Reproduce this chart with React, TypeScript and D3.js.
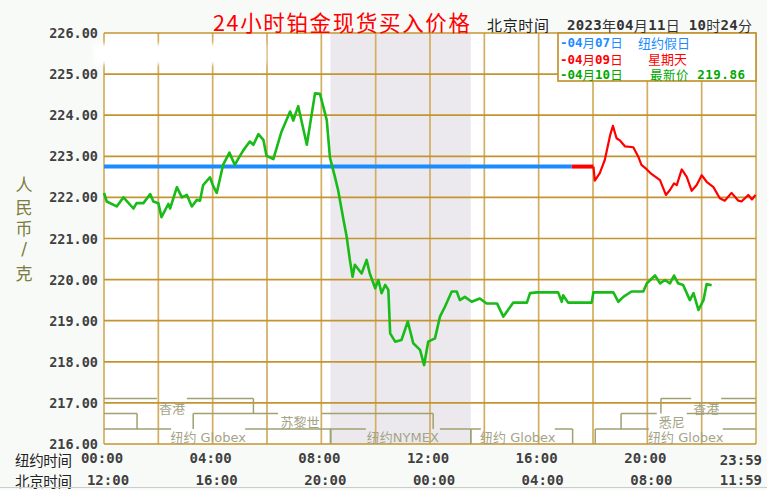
import React from "react";
import * as d3 from "d3";

// ---------- data ----------
const yTicks = [216, 217, 218, 219, 220, 221, 222, 223, 224, 225, 226];
const gridMinutes = [0, 120, 240, 360, 480, 600, 720, 840, 960, 1080, 1200, 1320, 1440];
const tickMinutes = [0, 240, 480, 720, 960, 1200, 1439];
const nyTickLabels = ["00:00", "04:00", "08:00", "12:00", "16:00", "20:00", "23:59"];
const bjTickLabels = ["12:00", "16:00", "20:00", "00:00", "04:00", "08:00", "11:59"];

// 04月07日 (纽约假日) – flat
const blueMinutes = [0, 1033];
const blueValues = [222.75, 222.75];

// 04月09日 (星期天)
const redFlatMinutes = [1033, 1081];
const redFlatValues = [222.75, 222.75];
const redMinutes = [1081, 1084, 1095, 1106, 1118, 1124, 1132, 1140, 1151, 1169, 1180, 1187, 1199, 1209, 1228, 1241, 1250, 1259, 1265, 1276, 1287, 1298, 1309, 1320, 1331, 1346, 1360, 1371, 1386, 1401, 1408, 1423, 1431, 1439];
const redValues = [222.75, 222.41, 222.59, 222.91, 223.52, 223.74, 223.44, 223.38, 223.24, 223.22, 222.99, 222.79, 222.68, 222.57, 222.42, 222.06, 222.18, 222.34, 222.30, 222.68, 222.50, 222.16, 222.30, 222.54, 222.38, 222.25, 221.98, 221.92, 222.11, 221.92, 221.90, 222.06, 221.95, 222.06];

// 04月10日 (最新价 219.86)
const greenMinutes = [0, 6, 28, 43, 65, 72, 87, 102, 109, 120, 127, 142, 146, 161, 172, 183, 194, 205, 212, 219, 234, 241, 249, 263, 277, 289, 297, 308, 322, 330, 341, 352, 359, 374, 392, 411, 418, 429, 448, 466, 477, 492, 499, 510, 517, 529, 536, 543, 549, 554, 569, 580, 587, 599, 606, 613, 621, 628, 632, 643, 657, 671, 683, 698, 707, 716, 731, 742, 753, 768, 779, 786, 797, 812, 830, 845, 860, 868, 882, 904, 934, 941, 956, 1003, 1011, 1014, 1025, 1077, 1081, 1125, 1136, 1147, 1165, 1191, 1199, 1217, 1228, 1239, 1250, 1259, 1268, 1279, 1294, 1302, 1313, 1324, 1331, 1342];
const greenValues = [222.11, 221.90, 221.78, 222.00, 221.73, 221.86, 221.86, 222.08, 221.90, 221.86, 221.52, 221.84, 221.73, 222.25, 222.00, 222.06, 221.78, 221.94, 221.92, 222.30, 222.49, 222.28, 222.11, 222.79, 223.09, 222.79, 222.95, 223.15, 223.36, 223.28, 223.54, 223.40, 223.01, 222.93, 223.60, 224.09, 223.87, 224.22, 223.28, 224.53, 224.52, 223.88, 222.97, 222.50, 222.18, 221.45, 221.04, 220.48, 220.07, 220.36, 220.15, 220.48, 220.15, 219.79, 219.99, 219.67, 219.87, 219.75, 218.69, 218.49, 218.53, 218.98, 218.45, 218.29, 217.92, 218.49, 218.57, 219.10, 219.34, 219.71, 219.71, 219.50, 219.58, 219.46, 219.54, 219.42, 219.42, 219.42, 219.10, 219.44, 219.44, 219.67, 219.69, 219.69, 219.46, 219.62, 219.44, 219.44, 219.69, 219.69, 219.46, 219.58, 219.71, 219.71, 219.91, 220.10, 219.91, 219.99, 219.91, 220.10, 219.91, 219.87, 219.50, 219.67, 219.26, 219.50, 219.89, 219.86];

// NYMEX session (shaded)
const nymexSpan = [500, 810];

// market sessions: name, row, start, end, label centre (minutes)
const sessionNames = ["香港", "香港", "苏黎世", "苏黎世", "悉尼", "纽约 Globex", "纽约NYMEX", "纽约 Globex", "纽约 Globex"];
const sessionRows = [0, 0, 1, 1, 1, 2, 2, 2, 2];
const sessionStarts = [0, 1230, 0, 197, 1142, 0, 500, 810, 1085];
const sessionEnds = [330, 1440, 73, 727, 1440, 501, 810, 1035, 1440];
const sessionLabelAt = [150, 1330, -1, 433, 1254, 230, 660, 914, 1285];

// ---------- helpers ----------
const ASCII_FONT = "'DejaVu Sans Mono', monospace";
const CJK_FONT = "'Noto Sans CJK SC', sans-serif";

function Mixed({ text }: { text: string }) {
  const runs: { s: string; ascii: boolean }[] = [];
  for (const ch of text) {
    const ascii = ch.charCodeAt(0) < 128;
    if (runs.length && runs[runs.length - 1].ascii === ascii) runs[runs.length - 1].s += ch;
    else runs.push({ s: ch, ascii });
  }
  return (
    <>
      {runs.map((r, i) => (
        <tspan key={i} fontFamily={r.ascii ? ASCII_FONT : CJK_FONT} fontWeight={r.ascii ? "bold" : "normal"}>
          {r.s}
        </tspan>
      ))}
    </>
  );
}

export default function App() {
  const W = 767;
  const H = 490;
  const L = 104, R = 756, T = 33, B = 444;
  const x = d3.scaleLinear().domain([0, 1440]).range([L, R]);
  const y = d3.scaleLinear().domain([216, 226]).range([B, T]);

  const mk = (ms: number[], vs: number[]) =>
    d3.line<number>().x((_, i) => x(ms[i])).y((_, i) => y(vs[i]))(ms.map((_, i) => i)) || "";

  const hGrid = "#c39530";
  const vGrid = "#d2ae60";
  const barColor = "#a0a072";
  const barText = "#a4a488";

  const rowTop = [398.5, 413.5, 429];
  const rowBot = [413.5, 429, 444];
  const labelY = [407, 421, 437];
  const halfGap: Record<string, number> = { "香港": 15, "苏黎世": 22, "悉尼": 15, "纽约 Globex": 37, "纽约NYMEX": 37 };

  return (
    <svg width={W} height={H} style={{ position: "absolute", left: 0, top: 0 }} xmlns="http://www.w3.org/2000/svg">
      <defs>
        <filter id="blur" x="-20%" y="-60%" width="140%" height="220%">
          <feGaussianBlur stdDeviation="2.2" />
        </filter>
      </defs>
      <rect x={0} y={0} width={W} height={H} fill="#f8faf8" />
      <rect x={L} y={T} width={R - L} height={B - T} fill="#ffffff" />
      {/* NYMEX shaded span */}
      <rect x={x(nymexSpan[0])} y={T} width={x(nymexSpan[1]) - x(nymexSpan[0])} height={B - T} fill="#ebe9ed" />

      {/* grid */}
      {gridMinutes.map((m) => (
        <line key={"v" + m} x1={x(m)} x2={x(m)} y1={T} y2={B} stroke={vGrid} strokeWidth={1.7} />
      ))}
      {yTicks.map((v) => (
        <line key={"h" + v} x1={L} x2={R} y1={y(v)} y2={y(v)} stroke={hGrid} strokeWidth={1.7} />
      ))}

      {/* erased watermark smudge */}
      <rect x={94} y={44} width={172} height={20} fill="#ffffff" filter="url(#blur)" />
      <rect x={100} y={47} width={160} height={14} fill="#ffffff" filter="url(#blur)" />

      {/* y tick labels */}
      {yTicks.map((v) => (
        <text key={"yl" + v} x={98} y={y(v)} textAnchor="end" dominantBaseline="central" fontFamily={ASCII_FONT} fontWeight="bold" fontSize={13.5} fill="#404040">
          {v.toFixed(2)}
        </text>
      ))}

      {/* sessions */}
      {sessionNames.map((name, i) => {
        const r = sessionRows[i];
        const s = x(sessionStarts[i]);
        const e = x(sessionEnds[i]);
        const top = rowTop[r];
        const els: React.ReactNode[] = [];
        const la = sessionLabelAt[i];
        if (la >= 0) {
          const c = x(la);
          const g = halfGap[name];
          els.push(<line key="a" x1={s} x2={c - g} y1={top} y2={top} stroke={barColor} strokeWidth={1.5} />);
          els.push(<line key="b" x1={c + g} x2={e} y1={top} y2={top} stroke={barColor} strokeWidth={1.5} />);
          els.push(
            <text key="t" x={c} y={labelY[r]} textAnchor="middle" dominantBaseline="central" fontFamily={name.includes("G") || name.includes("N") ? "'DejaVu Sans', 'Noto Sans CJK SC', sans-serif" : CJK_FONT} fontSize={13} fill={barText}>
              {name}
            </text>
          );
        } else {
          els.push(<line key="a" x1={s} x2={e} y1={top} y2={top} stroke={barColor} strokeWidth={1.5} />);
        }
        if (sessionStarts[i] > 0)
          els.push(<line key="st" x1={s} x2={s} y1={top} y2={rowBot[r]} stroke={barColor} strokeWidth={1.5} />);
        if (sessionEnds[i] < 1440)
          els.push(<line key="en" x1={e} x2={e} y1={top} y2={rowBot[r]} stroke={barColor} strokeWidth={1.5} />);
        return <g key={"s" + i}>{els}</g>;
      })}

      {/* series */}
      <path d={mk(blueMinutes, blueValues)} fill="none" stroke="#1a8cff" strokeWidth={4} />
      <path d={mk(redFlatMinutes, redFlatValues)} fill="none" stroke="#ff0000" strokeWidth={4} />
      <path d={mk(redMinutes, redValues)} fill="none" stroke="#ff0000" strokeWidth={2.2} strokeLinejoin="round" />
      <path d={mk(greenMinutes, greenValues)} fill="none" stroke="#18bb18" strokeWidth={2.6} strokeLinejoin="round" />

      {/* legend box */}
      <rect x={558} y={T} width={R - 558} height={48} fill="#ffffff" stroke={hGrid} strokeWidth={1.7} />
      <g fontSize={12.5}>
        <text x={560} y={42} dominantBaseline="central" fill="#1a8cff"><Mixed text="-04月07日" /></text>
        <text x={638} y={42} dominantBaseline="central" fill="#1a8cff" fontFamily={CJK_FONT} fontSize={13}>纽约假日</text>
        <text x={560} y={58.5} dominantBaseline="central" fill="#ff0000"><Mixed text="-04月09日" /></text>
        <text x={648} y={58} dominantBaseline="central" fill="#ff0000" fontFamily={CJK_FONT} fontSize={13}>星期天</text>
        <text x={560} y={74} dominantBaseline="central" fill="#00a800"><Mixed text="-04月10日" /></text>
        <text x={650} y={74} dominantBaseline="central" fill="#00a800" textLength={95} lengthAdjust="spacing"><Mixed text="最新价 219.86" /></text>
      </g>

      {/* title */}
      <text x={213} y={21.5} dominantBaseline="central" fontFamily={CJK_FONT} fontSize={21.5} fill="#ff0000" textLength={257} lengthAdjust="spacing">
        24小时铂金现货买入价格
      </text>
      <text x={487} y={24.5} dominantBaseline="central" fontFamily={CJK_FONT} fontSize={15} fill="#222" textLength={62} lengthAdjust="spacing">
        北京时间
      </text>
      <text x={567} y={24.5} dominantBaseline="central" fontSize={14} fill="#333" textLength={185} lengthAdjust="spacing">
        <Mixed text="2023年04月11日 10时24分" />
      </text>

      {/* y axis title */}
      {["人", "民", "币", "/", "克"].map((c, i) => (
        <text key={"yt" + i} x={24} y={[183.5, 206, 227.5, 249, 272][i]} textAnchor="middle" dominantBaseline="central" fontFamily={c === "/" ? "'DejaVu Sans', sans-serif" : CJK_FONT} fontSize={17} fill="#7d7d3d">
          {c}
        </text>
      ))}

      {/* x labels */}
      <text x={15} y={459.5} dominantBaseline="central" fontFamily={CJK_FONT} fontSize={14.5} fill="#222" textLength={57} lengthAdjust="spacing">纽约时间</text>
      <text x={15} y={480} dominantBaseline="central" fontFamily={CJK_FONT} fontSize={14.5} fill="#222" textLength={57} lengthAdjust="spacing">北京时间</text>
      {tickMinutes.map((m, i) => {
        const last = i === tickMinutes.length - 1;
        return (
          <g key={"xt" + i}>
            <text x={last ? 762 : x(m) - 2} y={last ? 459.5 : 457.5} textAnchor={last ? "end" : "middle"} dominantBaseline="central" fontFamily={ASCII_FONT} fontWeight="bold" fontSize={14} fill="#404040">
              {nyTickLabels[i]}
            </text>
            <text x={last ? 762 : x(m) + 4} y={479.5} textAnchor={last ? "end" : "middle"} dominantBaseline="central" fontFamily={ASCII_FONT} fontWeight="bold" fontSize={14} fill="#404040">
              {bjTickLabels[i]}
            </text>
          </g>
        );
      })}
      <line x1={0} x2={W} y1={487.5} y2={487.5} stroke="#cccccc" strokeWidth={1} />
    </svg>
  );
}
